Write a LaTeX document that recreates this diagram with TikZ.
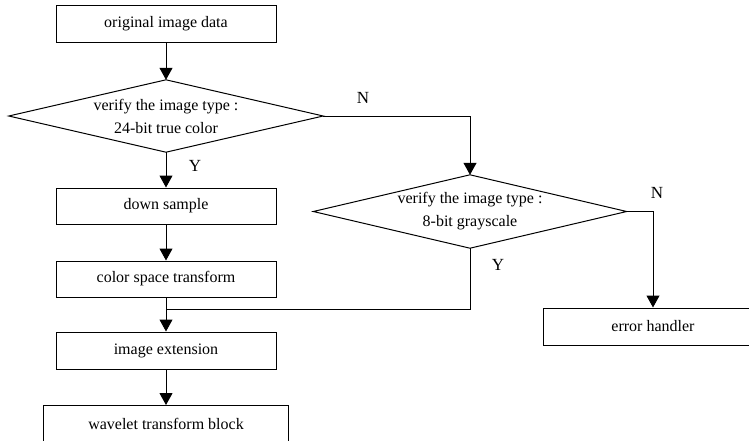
\documentclass[tikz,border=0pt]{standalone}
\usepackage{fontspec}
\setmainfont{Liberation Serif}
\usetikzlibrary{arrows.meta}
\begin{document}
\begin{tikzpicture}[x=1pt,y=-1pt,
  box/.style={draw,line width=1pt,minimum height=37pt,inner sep=0pt,font=\fontsize{16}{19}\selectfont},
  dia/.style={rectangle,inner sep=0pt,align=center,font=\fontsize{16}{23}\selectfont},
  dline/.style={line width=1pt},
  conn/.style={line width=1pt},
  arr/.style={line width=1pt,-{Triangle[width=13pt,length=12pt]}},
  lbl/.style={font=\fontsize{17}{20}\selectfont}]
\clip (0,0) rectangle (749,440);
\fill[white] (0,0) rectangle (749,440);
\node[box,minimum width=220pt] (orig) at (166,23.5) {original image data};
\node[dia,minimum width=314pt,minimum height=72pt] (d1) at (166,116) {verify the image type :\\24-bit true color};
\draw[dline] (d1.west) -- (d1.north) -- (d1.east) -- (d1.south) -- cycle;
\node[box,minimum width=220pt,minimum height=36pt] (ds) at (166,206) {down sample};
\node[box,minimum width=220pt,minimum height=36pt] (cs) at (166,279) {color space transform};
\node[box,minimum width=220pt] (ie) at (166,350.5) {image extension};
\node[box,minimum width=245pt,minimum height=42pt,anchor=north] (wt) at (166,405) {};
\node[font=\fontsize{16}{19}\selectfont] (wtt) at (166,424) {wavelet transform block};
\node[dia,minimum width=313pt,minimum height=73pt] (d2) at (470,211.5) {verify the image type :\\8-bit grayscale};
\draw[dline] (d2.west) -- (d2.north) -- (d2.east) -- (d2.south) -- cycle;
\node[box,minimum width=220pt] (err) at (653,326.5) {error handler};
\coordinate (j) at (166,309);
\node[lbl] (n1) at (363,98) {N};
\node[lbl] (y1) at (195,166) {Y};
\node[lbl] (n2) at (657,193) {N};
\node[lbl] (y2) at (498,265) {Y};
\draw[arr] (orig.south) -- (d1.north);
\draw[arr] (d1.south) -- (ds.north);
\draw[arr] (d1.east) -| (d2.north);
\draw[arr] (ds.south) -- (cs.north);
\draw[conn] (cs.south) -- (j);
\draw[conn] (d2.south) |- (j);
\draw[arr] (j) -- (ie.north);
\draw[arr] (d2.east) -| (err.north);
\draw[arr] (ie.south) -- (wt.north);
\end{tikzpicture}
\end{document}
